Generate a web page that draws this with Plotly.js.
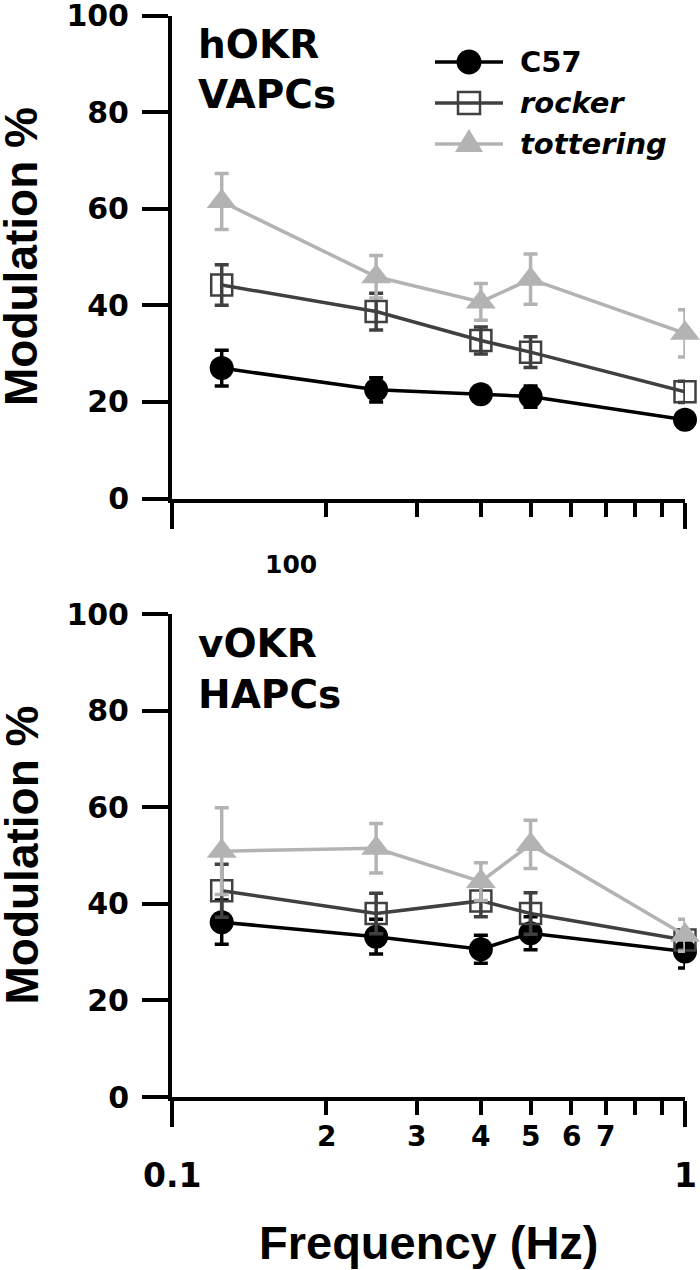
<!DOCTYPE html>
<html>
<head>
<meta charset="utf-8">
<script src="https://cdn.plot.ly/plotly-3.0.1.min.js"></script>
<style>html,body{margin:0;padding:0;background:#fff;}#chart{width:700px;height:1270px;}</style>
</head>
<body>
<div id="chart"></div>
<script>
// ---- data ----
const freqs = [0.125, 0.25, 0.4, 0.5, 1];
const seriesNames = ["C57", "<i>rocker</i>", "<i>tottering</i>"];
// top panel: hOKR / VAPCs
const hC57 = [27.0, 22.5, 21.6, 21.1, 16.3];
const hC57Err = [3.7, 2.5, 1.5, 2.2, 1.5];
const hRocker = [44.2, 38.7, 32.7, 30.3, 22.1];
const hRockerErr = [4.2, 3.8, 2.8, 3.2, 2.2];
const hTot = [61.5, 45.9, 40.7, 45.4, 34.2];
const hTotErr = [5.8, 4.4, 3.8, 5.2, 4.9];
// bottom panel: vOKR / HAPCs
const vC57 = [36.2, 33.2, 30.6, 33.9, 30.1];
const vC57Err = [4.6, 3.6, 2.9, 3.4, 3.4];
const vRocker = [42.7, 38.0, 40.6, 38.0, 32.5];
const vRockerErr = [5.5, 4.2, 3.3, 4.3, 2.0];
const vTot = [50.9, 51.5, 44.6, 52.3, 33.5];
const vTotErr = [9.0, 5.1, 3.9, 5.0, 3.3];
// ticks
const yTickVals = [0, 20, 40, 60, 80, 100];
const xMajorVals = [0.1, 1];
const xMajorText = ["0.1", "1"];
const xMinorVals = [0.2, 0.3, 0.4, 0.5, 0.6, 0.7, 0.8, 0.9];
const xMinorLabelVals = [0.2, 0.3, 0.4, 0.5, 0.6, 0.7];
const xMinorLabelText = ["2", "3", "4", "5", "6", "7"];
const strayLabel = "100";
const panelLabels = [["hOKR", "VAPCs"], ["vOKR", "HAPCs"]];
const yTitle = "Modulation %";
const xTitle = "Frequency (Hz)";

// ---- styles ----
const W = 700, H = 1270;
const F = "DejaVu Sans, Arial, sans-serif";
const FA = "Liberation Sans, Arial, sans-serif";
const styles = [
  {color: "#000000", symbol: "circle", size: 24, lineW: 0},
  {color: "#404040", symbol: "square-open", size: 21, lineW: 2.5},
  {color: "#b3b3b3", symbol: "triangle-up", size: 26, lineW: 0}
];
const px = v => v / W;
const py = v => 1 - v / H;

function mk(x, y, err, i, xa, ya) {
  const s = styles[i];
  return {
    type: "scatter", mode: "lines+markers", x: x, y: y,
    xaxis: xa, yaxis: ya, name: seriesNames[i], showlegend: false,
    cliponaxis: false,
    line: {color: s.color, width: 3.5},
    marker: {color: s.color, symbol: s.symbol, size: s.size, line: {color: s.color, width: s.lineW}},
    error_y: {type: "data", array: err, visible: true, color: s.color, thickness: 3.5, width: 7}
  };
}

const data = [
  mk(freqs, hC57, hC57Err, 0, "x", "y"),
  mk(freqs, hRocker, hRockerErr, 1, "x", "y"),
  mk(freqs, hTot, hTotErr, 2, "x", "y"),
  mk(freqs, vC57, vC57Err, 0, "x2", "y2"),
  mk(freqs, vRocker, vRockerErr, 1, "x2", "y2"),
  mk(freqs, vTot, vTotErr, 2, "x2", "y2")
];

const xDom = [px(172), px(685)];
const topDom = [py(498.5), py(15.5)];
const botDom = [py(1097), py(614)];

function xax(anchor) {
  return {
    type: "log", range: [-1, 0], domain: xDom, anchor: anchor,
    showline: true, linecolor: "#000", linewidth: 4,
    ticks: "outside", ticklen: 26, tickwidth: 4, tickcolor: "#000",
    tickvals: xMajorVals, showticklabels: false,
    showgrid: false, zeroline: false,
    minor: {tickvals: xMinorVals, ticks: "outside", ticklen: 14, tickwidth: 4, tickcolor: "#000", showgrid: false}
  };
}
function yax(anchor, dom) {
  return {
    range: [0, 100], domain: dom, anchor: anchor,
    showline: true, linecolor: "#000", linewidth: 4,
    ticks: "outside", ticklen: 26, tickwidth: 4, tickcolor: "#000",
    tickvals: yTickVals, ticktext: yTickVals.map(String),
    tickfont: {family: F, size: 30, color: "#000", weight: "bold"},
    ticklabelstandoff: 7, ticklabeloverflow: "allow",
    showgrid: false, zeroline: false
  };
}

const annotations = [];
// panel labels
const panelTop = [44, 643];
panelLabels.forEach((pair, p) => {
  pair.forEach((t, k) => {
    annotations.push({
      text: "<b>" + t + "</b>", xref: "paper", yref: "paper",
      x: px(196), y: py(panelTop[p] + k * 51),
      xanchor: "left", yanchor: "middle", showarrow: false,
      font: {family: F, size: 39, color: "#000"}
    });
  });
});
// y titles
[257, 855.5].forEach(cy => {
  annotations.push({
    text: "<b>" + yTitle + "</b>", xref: "paper", yref: "paper",
    x: px(21), y: py(cy), xanchor: "center", yanchor: "middle",
    textangle: -90, showarrow: false,
    font: {family: FA, size: 46, color: "#000"}
  });
});
// bottom x tick labels
xMinorLabelVals.forEach((v, i) => {
  annotations.push({
    text: "<b>" + xMinorLabelText[i] + "</b>", xref: "x2", yref: "paper",
    x: Math.log10(v), y: py(1136), xanchor: "center", yanchor: "middle",
    showarrow: false, font: {family: F, size: 28, color: "#000"}
  });
});
xMajorVals.forEach((v, i) => {
  annotations.push({
    text: "<b>" + xMajorText[i] + "</b>", xref: "x2", yref: "paper",
    x: Math.log10(v), y: py(1175), xanchor: "center", yanchor: "middle",
    showarrow: false, font: {family: F, size: 33, color: "#000"}
  });
});
// stray label under top panel
annotations.push({
  text: "<b>" + strayLabel + "</b>", xref: "paper", yref: "paper",
  x: px(291), y: py(564), xanchor: "center", yanchor: "middle",
  showarrow: false, font: {family: F, size: 25, color: "#000"}
});
// x title
annotations.push({
  text: "<b>" + xTitle + "</b>", xref: "paper", yref: "paper",
  x: px(429), y: py(1242), xanchor: "center", yanchor: "middle",
  showarrow: false, font: {family: FA, size: 47, color: "#000"}
});

// ---- legend (drawn manually so the symbols keep their plotted size) ----
const legRows = [62, 103, 144];
const legLine = [435, 503];
const legMark = 469;
const legText = 518;
const shapes = [];
legRows.forEach((ry, i) => {
  const s = styles[i];
  shapes.push({type: "line", xref: "paper", yref: "paper",
    x0: px(legLine[0]), x1: px(legLine[1]), y0: py(ry), y1: py(ry),
    line: {color: s.color, width: 3.5}});
  if (i === 0) {
    shapes.push({type: "circle", xref: "paper", yref: "paper",
      x0: px(legMark - 12.5), x1: px(legMark + 12.5), y0: py(ry + 12.5), y1: py(ry - 12.5),
      fillcolor: s.color, line: {color: s.color, width: 0}});
  } else if (i === 1) {
    shapes.push({type: "rect", xref: "paper", yref: "paper",
      x0: px(legMark - 11), x1: px(legMark + 11), y0: py(ry + 11), y1: py(ry - 11),
      fillcolor: "rgba(255,255,255,0)", line: {color: s.color, width: 2.5}});
  } else {
    shapes.push({type: "path", xref: "paper", yref: "paper",
      path: "M" + px(legMark - 14) + "," + py(ry + 8) + " L" + px(legMark + 14) + "," + py(ry + 8) +
            " L" + px(legMark) + "," + py(ry - 15) + " Z",
      fillcolor: s.color, line: {color: s.color, width: 0}});
  }
  annotations.push({
    text: "<b>" + seriesNames[i] + "</b>", xref: "paper", yref: "paper",
    x: px(legText), y: py(ry), xanchor: "left", yanchor: "middle",
    showarrow: false, font: {family: F, size: 29, color: "#000"}
  });
});

const layout = {
  width: W, height: H,
  margin: {l: 0, r: 0, t: 0, b: 0, pad: 0},
  paper_bgcolor: "#fff", plot_bgcolor: "rgba(0,0,0,0)",
  showlegend: false,
  xaxis: xax("y"),
  yaxis: yax("x", topDom),
  xaxis2: xax("y2"),
  yaxis2: yax("x2", botDom),
  annotations: annotations,
  shapes: shapes
};

Plotly.newPlot("chart", data, layout, {staticPlot: true, displayModeBar: false});
</script>
</body>
</html>
